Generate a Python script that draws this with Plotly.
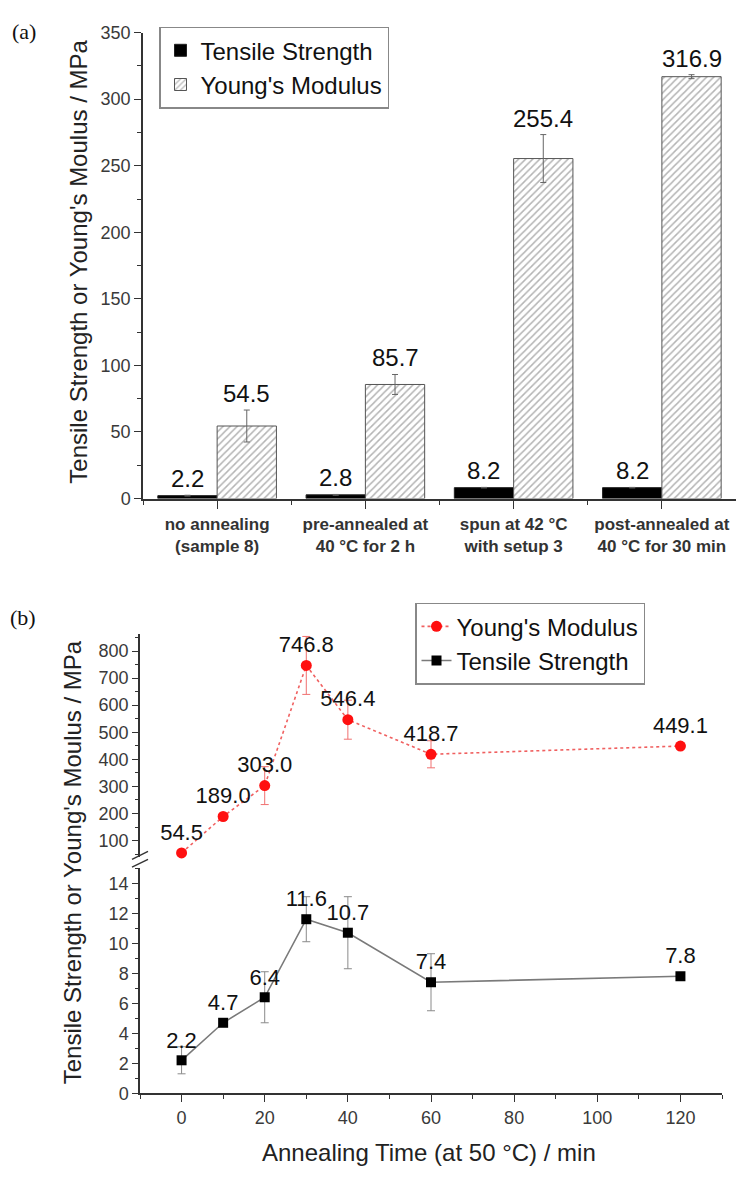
import plotly.graph_objects as go

# ---------------- data ----------------
# (a) mechanical properties for four processing routes
categories = [
    "no annealing<br>(sample 8)",
    "pre-annealed at<br>40 °C for 2 h",
    "spun at 42 °C<br>with setup 3",
    "post-annealed at<br>40 °C for 30 min",
]
tensile_a = [2.2, 2.8, 8.2, 8.2]
tensile_a_err = [0.3, 0.3, 0.2, 0.2]
modulus_a = [54.5, 85.7, 255.4, 316.9]
modulus_a_err = [12.0, 7.5, 18.0, 1.5]

# (b) effect of annealing time at 50 °C
anneal_time = [0, 10, 20, 30, 40, 60, 120]
modulus_b = [54.5, 189.0, 303.0, 746.8, 546.4, 418.7, 449.1]
modulus_b_err = [0, 0, 70, 107, 72, 50, 0]
tensile_b = [2.2, 4.7, 6.4, 11.6, 10.7, 7.4, 7.8]
tensile_b_err = [0.9, 0, 1.7, 1.5, 2.4, 1.9, 0]

y_ticks_a = [0, 50, 100, 150, 200, 250, 300, 350]
y_ticks_b_upper = [100, 200, 300, 400, 500, 600, 700, 800]
y_ticks_b_lower = [0, 2, 4, 6, 8, 10, 12, 14]
x_ticks_b = [0, 20, 40, 60, 80, 100, 120]

# ---------------- page geometry ----------------
W, H = 736, 1179
FONT = "Liberation Sans, Arial, Helvetica, sans-serif"
SERIF = "Liberation Serif, Times New Roman, serif"
AXIS = "#333333"
TICKFONT = "#3a3a3a"


def px(p):
    return p / W


def py(p):
    return 1 - p / H


cat_pos = list(range(len(categories)))
bar_w = 0.4

fig = go.Figure()

# ---------------- (a) grouped bars ----------------
fig.add_trace(go.Bar(
    x=[c - bar_w / 2 for c in cat_pos], y=tensile_a, width=bar_w,
    name="Tensile Strength",
    marker=dict(color="black", line=dict(color="#222", width=1)),
    error_y=dict(type="data", array=tensile_a_err, color="#666", thickness=1, width=3),
    xaxis="x", yaxis="y", legend="legend",
))
fig.add_trace(go.Bar(
    x=[c + bar_w / 2 for c in cat_pos], y=modulus_a, width=bar_w,
    name="Young's Modulus",
    marker=dict(color="white", line=dict(color="#555", width=1),
                pattern=dict(shape="/", fgcolor="#6a6a6a", bgcolor="white",
                             size=5, solidity=0.3)),
    error_y=dict(type="data", array=modulus_a_err, color="#666", thickness=1, width=3),
    xaxis="x", yaxis="y", legend="legend",
))

annotations = []
for c, v, e in zip(cat_pos, tensile_a, tensile_a_err):
    annotations.append(dict(x=c - bar_w / 2, y=v + e, xref="x", yref="y",
                            text=f"{v:.1f}", showarrow=False, xanchor="center",
                            yanchor="bottom", yshift=1,
                            font=dict(size=24, color="#111", family=FONT)))
for c, v, e in zip(cat_pos, modulus_a, modulus_a_err):
    annotations.append(dict(x=c + bar_w / 2, y=v + e, xref="x", yref="y",
                            text=f"{v:.1f}", showarrow=False, xanchor="center",
                            yanchor="bottom", yshift=1,
                            font=dict(size=24, color="#111", family=FONT)))

# ---------------- (b) line plots with broken y axis ----------------
fig.add_trace(go.Scatter(
    x=anneal_time, y=modulus_b, name="Young's Modulus",
    mode="lines+markers+text",
    line=dict(color="#f06060", width=1.6, dash="dot"),
    marker=dict(color="#ff1010", size=11, symbol="circle"),
    error_y=dict(type="data", array=modulus_b_err, color="#f07070", thickness=1, width=4),
    text=[f"{v:.1f}" for v in modulus_b], textposition="top center",
    textfont=dict(size=22, color="#111", family=FONT),
    cliponaxis=False, xaxis="x2", yaxis="y2", legend="legend2",
))
fig.add_trace(go.Scatter(
    x=anneal_time, y=tensile_b, name="Tensile Strength",
    mode="lines+markers+text",
    line=dict(color="#7a7a7a", width=1.6),
    marker=dict(color="black", size=10, symbol="square"),
    error_y=dict(type="data", array=tensile_b_err, color="#8a8a8a", thickness=1, width=4),
    text=[f"{v:.1f}" for v in tensile_b], textposition="top center",
    textfont=dict(size=22, color="#111", family=FONT),
    cliponaxis=False, xaxis="x2", yaxis="y3", legend="legend2",
))

# axis-break marks on the shared left axis of (b)
shapes = []
for dy in (0, 8):
    shapes.append(dict(type="line", xref="paper", yref="paper",
                       x0=px(132), y0=py(864 + dy), x1=px(148), y1=py(856 + dy),
                       line=dict(color=AXIS, width=1.4)))

# axis titles and panel labels
ytitle = "Tensile Strength or Young's Moulus / MPa"
title_font = dict(size=24, color="#222", family=FONT)
annotations += [
    dict(x=px(79), y=py(256), xref="paper", yref="paper", text=ytitle,
         textangle=-90, showarrow=False, xanchor="center", yanchor="middle",
         font=title_font),
    dict(x=px(72), y=py(867), xref="paper", yref="paper", text=ytitle,
         textangle=-90, showarrow=False, xanchor="center", yanchor="middle",
         font=title_font),
    dict(x=px(429), y=py(1162), xref="paper", yref="paper",
         text="Annealing Time (at 50 °C) / min", showarrow=False,
         xanchor="center", yanchor="middle", font=title_font),
    dict(x=px(10), y=py(22), xref="paper", yref="paper", text="(a)",
         xanchor="left", yanchor="middle", showarrow=False,
         font=dict(size=22, color="#111", family=SERIF)),
    dict(x=px(8), y=py(618), xref="paper", yref="paper", text="(b)",
         xanchor="left", yanchor="middle", showarrow=False,
         font=dict(size=22, color="#111", family=SERIF)),
]

axis_common = dict(showline=True, linecolor=AXIS, linewidth=1.5, ticks="outside",
                   tickcolor=AXIS, tickwidth=1.3, showgrid=False, zeroline=False,
                   tickfont=dict(size=18, color=TICKFONT, family=FONT))
axis_no_font = {k: v for k, v in axis_common.items() if k != "tickfont"}

fig.update_layout(
    width=W, height=H, margin=dict(l=0, r=0, t=0, b=0),
    paper_bgcolor="white", plot_bgcolor="white",
    font=dict(family=FONT, color="#222"),
    barmode="overlay",
    xaxis=dict(domain=[px(143), px(736)], range=[-0.5, 3.5], anchor="y",
               tickmode="array", tickvals=cat_pos, ticktext=categories, ticklen=9,
               minor=dict(tickmode="array",
                          tickvals=[c - 0.5 for c in cat_pos] + [cat_pos[-1] + 0.5],
                          ticks="outside", ticklen=5, tickcolor=AXIS, tickwidth=1.3),
               tickfont=dict(size=17, color="#333", family=FONT, weight="bold"),
               **axis_no_font),
    yaxis=dict(domain=[py(497), py(23)], range=[0, 350], anchor="x",
               tickmode="array", tickvals=y_ticks_a, ticklen=7,
               minor=dict(dtick=25, ticks="outside", ticklen=4, tickcolor=AXIS, tickwidth=1.3),
               **axis_common),
    xaxis2=dict(domain=[px(140), px(722)], range=[-10, 130], anchor="y3",
                tickmode="array", tickvals=x_ticks_b, ticklen=7,
                minor=dict(dtick=10, ticks="outside", ticklen=4, tickcolor=AXIS, tickwidth=1.3),
                **axis_common),
    yaxis2=dict(domain=[py(862), py(635)], range=[38, 862], anchor="x2",
                tickmode="array", tickvals=y_ticks_b_upper, ticklen=6,
                minor=dict(dtick=50, ticks="outside", ticklen=3, tickcolor=AXIS, tickwidth=1.2),
                **axis_common),
    yaxis3=dict(domain=[py(1102), py(873)], range=[0, 15], anchor="x2",
                tickmode="array", tickvals=y_ticks_b_lower, ticklen=6,
                minor=dict(dtick=1, ticks="outside", ticklen=3, tickcolor=AXIS, tickwidth=1.2),
                **axis_common),
    legend=dict(x=px(159), y=py(17), xanchor="left", yanchor="top",
                bgcolor="white", bordercolor="#888", borderwidth=1.5,
                font=dict(size=24, color="#111", family=FONT), traceorder="normal",
                tracegroupgap=0),
    legend2=dict(x=px(415), y=py(603), xanchor="left", yanchor="top",
                 bgcolor="white", bordercolor="#888", borderwidth=1.5,
                 font=dict(size=24, color="#111", family=FONT), traceorder="normal",
                 tracegroupgap=0),
    annotations=annotations,
    shapes=shapes,
)

fig.write_html("out.html")
